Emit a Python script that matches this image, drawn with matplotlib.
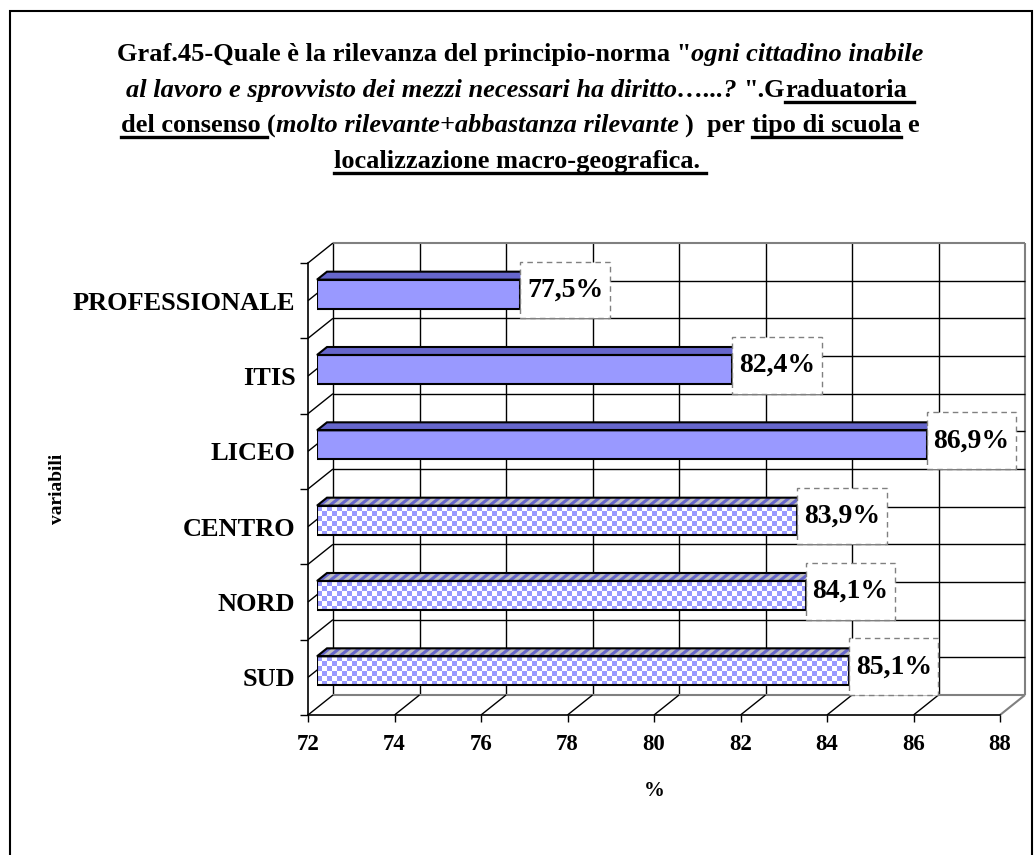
import numpy as np
import matplotlib
matplotlib.use("Agg")
import matplotlib.pyplot as plt
from matplotlib.patches import Polygon, Rectangle
from matplotlib.path import Path
from matplotlib.collections import LineCollection, PolyCollection
from matplotlib.transforms import IdentityTransform, ScaledTranslation

categories = ["PROFESSIONALE", "ITIS", "LICEO", "CENTRO", "NORD", "SUD"]
values = [77.5, 82.4, 86.9, 83.9, 84.1, 85.1]
value_labels = ["77,5%", "82,4%", "86,9%", "83,9%", "84,1%", "85,1%"]
checkered = [False, False, False, True, True, True]  # tipo di scuola vs macro-area
x_ticks = [72, 74, 76, 78, 80, 82, 84, 86, 88]
x_label = "%"
y_label = "variabili"

# title pieces: (text, italic, underlined)
title_lines = [
    [("Graf.45-Quale è la rilevanza del principio-norma \"", False, False),
     ("ogni cittadino inabile", True, False)],
    [("al lavoro e sprovvisto dei mezzi necessari ha diritto…...? ", True, False),
     ("\".G", False, False),
     ("raduatoria ", False, True)],
    [("del consenso ", False, True),
     ("(", False, False),
     ("molto rilevante+abbastanza rilevante ", True, False),
     (")  per ", False, False),
     ("tipo di scuola", False, True),
     (" e", False, False)],
    [("localizzazione macro-geografica. ", False, True)],
]

W, H, DPI = 1034, 855, 100
SERIF = "Liberation Serif"
BLUE = "#9999FF"
DARK = "#6666CC"
GREY = "#C0C0C0"
EDGE_GREY = "#808080"
WALL = np.array([25.0, 20.0])       # depth of the 3-D box, px
BAR_FRONT = np.array([9.0, 6.5])    # bars sit a bit behind the front plane
BAR_DEPTH = np.array([10.0, 8.0])
LAG = 0.8                           # excel's 3-D bars end short of the scale
BAR_H = 0.385
CELL = 5.0                          # checker square, px

fig = plt.figure(figsize=(W / DPI, H / DPI), dpi=DPI)
n = len(categories)
x0, x1 = x_ticks[0], x_ticks[-1]
y_top, y_bot = -0.5, n - 0.5

# front plane of the 3-D box
ax = fig.add_axes([308 / W, 1 - 715 / H, 692 / W, 452 / H])
ax.set_xlim(x0, x1)
ax.set_ylim(y_bot, y_top)
ax.patch.set_visible(False)
for s in ["top", "right"]:
    ax.spines[s].set_visible(False)
ax.spines["left"].set_linewidth(1.2)
ax.spines["bottom"].set_linewidth(1.2)

ax.set_xticks(x_ticks)
ax.set_xticklabels([str(t) for t in x_ticks], family=SERIF, weight="bold", fontsize=16.5)
ax.tick_params(axis="x", length=5, width=1, pad=9)
ax.set_yticks(range(n))
ax.set_yticklabels(categories, family=SERIF, weight="bold", fontsize=19)
ax.tick_params(axis="y", which="major", length=0, pad=9)
ax.set_yticks(np.arange(y_top, n, 1.0), minor=True)
ax.tick_params(axis="y", which="minor", length=6, width=1)

ax.set_xlabel(x_label, family=SERIF, weight="bold", fontsize=15)
ax.xaxis.set_label_coords(0.5, -0.145)
ax.set_ylabel(y_label, family=SERIF, weight="bold", fontsize=14)
ax.yaxis.set_label_coords(-0.35, 0.5)

back = ax.transData + ScaledTranslation(WALL[0] / DPI, WALL[1] / DPI, fig.dpi_scale_trans)

# back wall grid
ax.vlines(x_ticks[:-1], y_top, y_bot, color="black", lw=1, transform=back, clip_on=False)
ax.vlines([x1], y_top, y_bot, color=EDGE_GREY, lw=1.5, transform=back, clip_on=False)
half = np.arange(y_top, y_bot + 0.01, 0.5)
ax.hlines(half[1:-1], x0, x1, color="black", lw=1, transform=back, clip_on=False)
ax.hlines([y_top, y_bot], x0, x1, color=EDGE_GREY, lw=1.5, transform=back, clip_on=False)


def depth_seg(x, y):
    p = ax.transData.transform((x, y))
    return [p, p + WALL]


# left wall and floor diagonals
segs = [depth_seg(x0, y) for y in half] + [depth_seg(x, y_bot) for x in x_ticks[1:-1]]
ax.add_collection(LineCollection(segs, colors="black", linewidths=1,
                                 transform=IdentityTransform(), clip_on=False))
ax.add_collection(LineCollection([depth_seg(x1, y_bot)], colors=EDGE_GREY, linewidths=1.5,
                                 transform=IdentityTransform(), clip_on=False))

# bars live on their own axes, nudged into the box
axb = fig.add_axes([(308 + BAR_FRONT[0]) / W, 1 - (715 - BAR_FRONT[1]) / H, 692 / W, 452 / H])
bar_left = x0 + LAG
axb.set_xlim(bar_left, x1 + LAG)
axb.set_ylim(y_bot, y_top)
axb.axis("off")


def excel_box(x, y, width, height, mutation_size):
    # data label frame: tight at the sides, tall above and below
    px, py = 0.24 * mutation_size, 0.57 * mutation_size
    return Path([(x - px, y - py), (x + width + px, y - py), (x + width + px, y + height + py),
                 (x - px, y + height + py), (x - px, y - py)], closed=True)


for i, (v, chk, lab) in enumerate(zip(values, checkered, value_labels)):
    bar = axb.barh(i, v - bar_left, left=bar_left, height=BAR_H,
                   color="white" if chk else BLUE, lw=0, zorder=3)[0]
    pa = axb.transData.transform((bar_left, i - BAR_H / 2))   # top-left of front face
    pb = axb.transData.transform((v, i - BAR_H / 2))
    pc = axb.transData.transform((v, i + BAR_H / 2))
    top = Polygon([pa, pb, pb + BAR_DEPTH, pa + BAR_DEPTH], closed=True, fc=DARK, ec="none",
                  transform=IdentityTransform(), clip_on=False, zorder=3)
    axb.add_patch(top)
    if chk:
        ncol = int(np.ceil((pb[0] - pa[0]) / CELL))
        nrow = int(np.ceil((pa[1] - pc[1]) / CELL))
        sq = []
        for c in range(ncol):
            for r in range(nrow):
                if (c + r) % 2 == 0:
                    xl, yt = pa[0] + c * CELL, pa[1] - r * CELL
                    sq.append([(xl, yt), (xl + CELL, yt), (xl + CELL, yt - CELL), (xl, yt - CELL)])
        pcol = PolyCollection(sq, facecolors=BLUE, edgecolors="none",
                              transform=IdentityTransform(), zorder=3.1)
        axb.add_collection(pcol)
        pcol.set_clip_path(bar)
        tops = []
        for c in range(1, ncol, 2):
            xl = pa[0] + c * CELL
            tops.append([(xl, pa[1]), (xl + CELL, pa[1]),
                         (xl + CELL + BAR_DEPTH[0], pa[1] + BAR_DEPTH[1]),
                         (xl + BAR_DEPTH[0], pa[1] + BAR_DEPTH[1])])
        tcol = PolyCollection(tops, facecolors=GREY, edgecolors="none",
                              transform=IdentityTransform(), zorder=3.1)
        axb.add_collection(tcol)
        tcol.set_clip_path(top)
    axb.barh(i, v - bar_left, left=bar_left, height=BAR_H, fill=False,
             edgecolor="black", lw=1.5, zorder=3.3)
    axb.add_patch(Polygon([pa, pb, pb + BAR_DEPTH, pa + BAR_DEPTH], closed=True, fill=False,
                          ec="black", lw=1.5, transform=IdentityTransform(),
                          clip_on=False, zorder=3.3))
    axb.annotate(lab, xy=(v, i), xytext=(4.8, 2.9), textcoords="offset points",
                 ha="left", va="center", family=SERIF, weight="bold", fontsize=20,
                 annotation_clip=False, zorder=5,
                 bbox=dict(boxstyle=excel_box, fc="white", ec=EDGE_GREY,
                           lw=1, ls=(0, (4, 3))))

# title, piece by piece so italics and underlines can mix
rend = fig.canvas.get_renderer()
TITLE_SIZE = 19
TITLE_X = 520


def advance(s, italic):
    def w(txt):
        t = fig.text(0, 0, txt, family=SERIF, weight="bold", fontsize=TITLE_SIZE,
                     style="italic" if italic else "normal")
        ww = t.get_window_extent(rend).width
        t.remove()
        return ww
    return w("x" + s + "x") - w("xx")


for k, pieces in enumerate(title_lines):
    base = 61 + 35.7 * k
    adv = [advance(s, it) for s, it, _ in pieces]
    cur = TITLE_X - sum(adv) / 2
    for (s, it, ul), a in zip(pieces, adv):
        lead = len(s) - len(s.lstrip(" "))
        lx = cur + (advance(" " * lead, it) if lead else 0)
        fig.text(lx / W, 1 - base / H, s.strip(" "), family=SERIF, weight="bold",
                 fontsize=TITLE_SIZE, style="italic" if it else "normal",
                 ha="left", va="baseline")
        if ul:
            fig.add_artist(plt.Line2D([lx / W, (cur + a) / W], [1 - (base + 5) / H] * 2,
                                      color="black", lw=2.4))
        cur += a

# outer frame of the excel chart area (bottom side falls off the picture)
fig.add_artist(Rectangle((10 / W, -0.05), 1022 / W, 1.05 - 11 / H, fill=False,
                         ec="black", lw=1.5, transform=fig.transFigure, clip_on=False))

fig.savefig("out.png", dpi=DPI)
